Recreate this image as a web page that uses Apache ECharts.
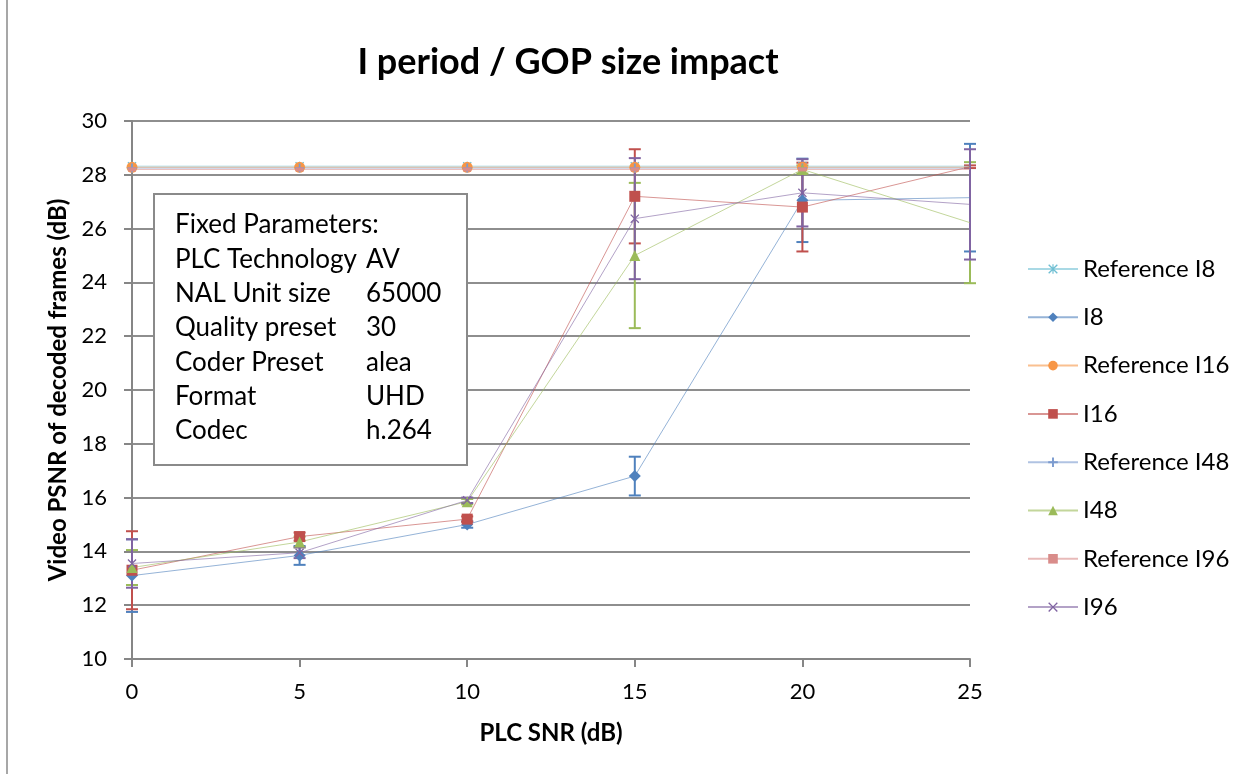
<!DOCTYPE html>
<html><head><meta charset="utf-8">
<script src="https://cdn.jsdelivr.net/npm/echarts@6/dist/echarts.min.js"></script>
<style>html,body{margin:0;padding:0;background:#fff}#c{width:1259px;height:774px}</style>
</head><body><div id="c"></div>
<script>
const xValues = [0, 5, 10, 15, 20, 25];
const xTicks = ['0', '5', '10', '15', '20', '25'];
const refI8 = [28.32, 28.32, 28.32, 28.32, 28.32, 28.32];
const i8 = [13.1, 13.85, 15.0, 16.8, 27.05, 27.15];
const i8Err = [1.35, 0.35, 0.12, 0.72, 1.55, 2.0];
const refI16 = [28.28, 28.28, 28.28, 28.28, 28.28, 28.28];
const i16 = [13.3, 14.55, 15.2, 27.2, 26.8, 28.3];
const i16Err = [1.45, 0.15, 0.1, 1.75, 1.65, 0.05];
const refI48 = [28.25, 28.25, 28.25, 28.25, 28.25, 28.25];
const i48 = [13.4, 14.35, 15.85, 25.0, 28.2, 26.22];
const i48Err = [0.65, 0.2, 0.1, 2.7, 0.15, 2.25];
const refI96 = [28.2, 28.2, 28.2, 28.2, 28.2, 28.2];
const i96 = [13.55, 13.95, 15.9, 26.37, 27.33, 26.9];
const i96Err = [0.9, 0.2, 0.1, 2.25, 1.25, 2.05];
const seriesNames = ['Reference I8', 'I8', 'Reference I16', 'I16', 'Reference I48', 'I48', 'Reference I96', 'I96'];
const paramLabels = ['Fixed Parameters:', 'PLC Technology', 'NAL Unit size', 'Quality preset', 'Coder Preset', 'Format', 'Codec'];
const paramValues = ['', 'AV', '65000', '30', 'alea', 'UHD', 'h.264'];
const yAxisTitle = 'Video PSNR of decoded frames (dB)';

const FONT = 'Lato';
const X_SYM = 'path://M0,1 L1,0 L5,4 L9,0 L10,1 L6,5 L10,9 L9,10 L5,6 L1,10 L0,9 L4,5 Z';
const PLUS_SYM = 'path://M4,0 H6 V4 H10 V6 H6 V10 H4 V6 H0 V4 H4 Z';
const STAR_SYM = 'path://M0,1 L1,0 L5,4 L9,0 L10,1 L6,5 L10,9 L9,10 L5,6 L1,10 L0,9 L4,5 Z M4.4,0 H5.6 V10 H4.4 Z';

function pts(ys) {
  return xValues.map((x, i) => i === xValues.length - 1 ? { value: [x, ys[i]], symbol: 'none' } : [x, ys[i]]);
}
function lineSeries(name, ys, color, symbol, size) {
  return {
    name, type: 'line', data: pts(ys), symbol, symbolSize: size,
    itemStyle: { color: color, opacity: 1 },
    lineStyle: { color: color, width: 1, opacity: 0.6 },
    z: 4, animation: false
  };
}
function errSeries(name, ys, errs, color) {
  return {
    name, type: 'custom', z: 3, animation: false,
    data: xValues.map((x, i) => [x, ys[i] - errs[i], ys[i] + errs[i]]),
    renderItem: function (params, api) {
      const lo = api.coord([api.value(0), api.value(1)]);
      const hi = api.coord([api.value(0), api.value(2)]);
      const w = 6;
      const st = { stroke: color, lineWidth: 2 };
      return { type: 'group', children: [
        { type: 'line', shape: { x1: lo[0], y1: lo[1], x2: hi[0], y2: hi[1] }, style: st },
        { type: 'line', shape: { x1: lo[0] - w, y1: lo[1], x2: lo[0] + w, y2: lo[1] }, style: st },
        { type: 'line', shape: { x1: hi[0] - w, y1: hi[1], x2: hi[0] + w, y2: hi[1] }, style: st }
      ]};
    }
  };
}

const C = {
  refI8: '#6fbfd3', i8: '#4F81BD', refI16: '#F79646', i16: '#C0504D',
  refI48: '#7b9bcf', i48: '#9BBB59', refI96: '#d98c8a', i96: '#8064A2'
};

const boxX = 154, boxY = 194, boxW = 313, boxH = 271;
const graphics = [
  { type: 'rect', shape: { x: 7, y: -10, width: 1400, height: 900 }, style: { fill: null, stroke: '#8a8a8a', lineWidth: 1.5 }, silent: true, z: 0 },
  { type: 'text', x: 568, y: 62, style: { text: 'I period / GOP size impact', font: 'bold 36px ' + FONT, fill: '#000', align: 'center', verticalAlign: 'middle' }, z: 10 },
  { type: 'text', x: 70, y: 390, rotation: Math.PI / 2, style: { text: yAxisTitle, font: 'bold 24px ' + FONT, fill: '#000', align: 'center', verticalAlign: 'bottom' }, z: 10 },
  { type: 'rect', shape: { x: boxX, y: boxY, width: boxW, height: boxH }, style: { fill: '#fff', stroke: '#8a8a8a', lineWidth: 2 }, z: 20 }
];
paramLabels.forEach((t, i) => {
  const cy = 225 + i * 34.3;
  graphics.push({ type: 'text', x: 175, y: cy, style: { text: t, font: '26px ' + FONT, fill: '#000', align: 'left', verticalAlign: 'middle' }, z: 21 });
  if (paramValues[i]) graphics.push({ type: 'text', x: 366, y: cy, style: { text: paramValues[i], font: '26px ' + FONT, fill: '#000', align: 'left', verticalAlign: 'middle' }, z: 21 });
});

const chart = echarts.init(document.getElementById('c'), null, { renderer: 'canvas' });
chart.setOption({
  animation: false,
  backgroundColor: '#fff',
  textStyle: { fontFamily: FONT },
  grid: { left: 132, right: 289, top: 121, bottom: 115 },
  legend: {
    orient: 'vertical', left: 1022, top: 252, itemWidth: 50, itemHeight: 12, itemGap: 24.3,
    data: seriesNames,
    textStyle: { fontFamily: FONT, fontSize: 24, color: '#000', lineHeight: 24 }
  },
  xAxis: {
    type: 'value', min: 0, max: 25, interval: 5,
    name: 'PLC SNR (dB)', nameLocation: 'middle', nameGap: 62,
    nameTextStyle: { fontFamily: FONT, fontSize: 24, fontWeight: 'bold', color: '#000' },
    axisLine: { lineStyle: { color: '#868686', width: 2 } },
    axisTick: { show: true, length: 8, lineStyle: { color: '#868686', width: 2 } },
    axisLabel: { margin: 22, fontFamily: FONT, fontSize: 22, color: '#000', formatter: v => xTicks[xValues.indexOf(v)] ?? String(v) },
    splitLine: { show: false }
  },
  yAxis: {
    type: 'value', min: 10, max: 30, interval: 2,
    axisLine: { show: true, lineStyle: { color: '#868686', width: 2 } },
    axisTick: { show: true, length: 8, lineStyle: { color: '#868686', width: 2 } },
    axisLabel: { margin: 25, fontFamily: FONT, fontSize: 22, color: '#000' },
    splitLine: { show: true, lineStyle: { color: '#8e8e8e', width: 2 } }
  },
  graphic: graphics,
  series: [
    lineSeries('Reference I8', refI8, C.refI8, STAR_SYM, 9),
    lineSeries('I8', i8, C.i8, 'diamond', 12),
    lineSeries('Reference I16', refI16, C.refI16, 'circle', 11),
    lineSeries('I16', i16, C.i16, 'rect', 11),
    lineSeries('Reference I48', refI48, C.refI48, PLUS_SYM, 9),
    lineSeries('I48', i48, C.i48, 'triangle', 11),
    lineSeries('Reference I96', refI96, C.refI96, 'rect', [8, 4]),
    lineSeries('I96', i96, C.i96, X_SYM, 9),
    errSeries('I8', i8, i8Err, C.i8),
    errSeries('I16', i16, i16Err, C.i16),
    errSeries('I48', i48, i48Err, C.i48),
    errSeries('I96', i96, i96Err, C.i96)
  ]
});
</script></body></html>
